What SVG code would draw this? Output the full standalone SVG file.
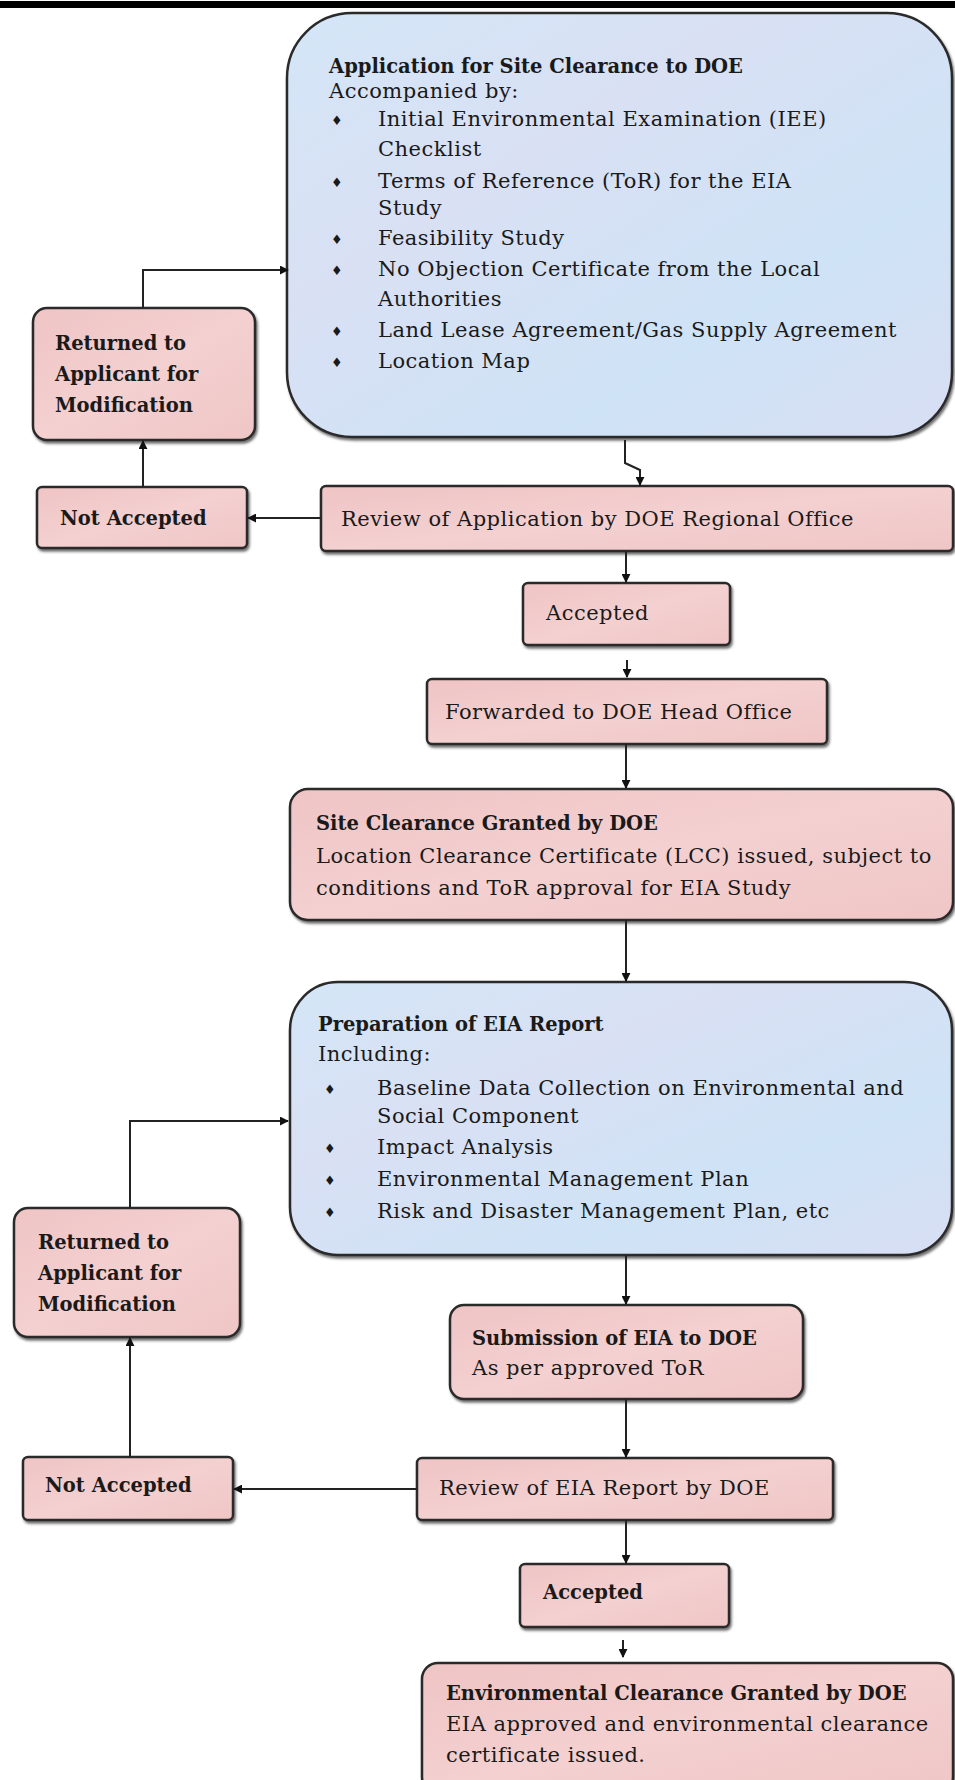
<svg xmlns="http://www.w3.org/2000/svg" width="955" height="1780" viewBox="0 0 955 1780">
<defs>
<linearGradient id="pink" x1="0" y1="0" x2="1" y2="1">
<stop offset="0" stop-color="#efc4c5"/><stop offset="0.5" stop-color="#f4d0d0"/><stop offset="1" stop-color="#efc6c6"/>
</linearGradient>
<linearGradient id="blue" x1="0" y1="0" x2="1" y2="1">
<stop offset="0" stop-color="#d3e6f7"/><stop offset="0.35" stop-color="#d9e0f4"/><stop offset="0.7" stop-color="#cfe3f6"/><stop offset="1" stop-color="#d8def3"/>
</linearGradient>
<filter id="sh" x="-5%" y="-5%" width="110%" height="115%">
<feDropShadow dx="1.5" dy="2.5" stdDeviation="1" flood-color="#333" flood-opacity="0.7"/>
</filter>
<marker id="ah" viewBox="0 0 10 10" refX="9" refY="5" markerWidth="9" markerHeight="9" markerUnits="userSpaceOnUse" orient="auto">
<path d="M0,0 L10,5 L0,10 z" fill="#111"/>
</marker>
</defs>
<style>
.p{fill:url(#pink);stroke:#2a2a2a;stroke-width:2.5;filter:url(#sh)}
.b{fill:url(#blue);stroke:#2a2a2a;stroke-width:2.5;filter:url(#sh)}
.t{font-family:"DejaVu Serif","Liberation Serif",serif;font-size:21px;letter-spacing:0.5px;fill:#1a1a1a}
.tb{font-family:"DejaVu Serif","Liberation Serif",serif;font-size:19.5px;font-weight:bold;fill:#1a1a1a}
.bu{font-family:"DejaVu Sans",sans-serif;font-size:13px;fill:#1a1a1a}
.c{fill:none;stroke:#222;stroke-width:2;marker-end:url(#ah)}
</style>
<rect x="0" y="1" width="955" height="7" fill="#000"/>

<g id="app">
<rect class="b" x="287" y="13" width="665" height="424" rx="65" ry="65"/>
<text class="tb" x="329" y="73">Application for Site Clearance to DOE</text>
<text class="t" x="329" y="98">Accompanied by:</text>
<text class="bu" x="331" y="125">♦</text><text class="t" x="378" y="126">Initial Environmental Examination (IEE)</text>
<text class="t" x="378" y="156">Checklist</text>
<text class="bu" x="331" y="187">♦</text><text class="t" x="378" y="188">Terms of Reference (ToR) for the EIA</text>
<text class="t" x="378" y="215">Study</text>
<text class="bu" x="331" y="244">♦</text><text class="t" x="378" y="245">Feasibility Study</text>
<text class="bu" x="331" y="275">♦</text><text class="t" x="378" y="276">No Objection Certificate from the Local</text>
<text class="t" x="378" y="306">Authorities</text>
<text class="bu" x="331" y="336">♦</text><text class="t" x="378" y="337">Land Lease Agreement/Gas Supply Agreement</text>
<text class="bu" x="331" y="367">♦</text><text class="t" x="378" y="368">Location Map</text>
</g>

<g id="ret1">
<rect class="p" x="33" y="308" width="222" height="132" rx="14"/>
<text class="tb" x="55" y="350">Returned to</text>
<text class="tb" x="55" y="381">Applicant for</text>
<text class="tb" x="55" y="412">Modification</text>
</g>

<g id="na1">
<rect class="p" x="37" y="487" width="210" height="61" rx="5"/>
<text class="tb" x="60" y="525">Not Accepted</text>
</g>

<g id="rev1">
<rect class="p" x="321" y="486" width="632" height="65" rx="5"/>
<text class="t" x="341" y="526">Review of Application by DOE Regional Office</text>
</g>

<g id="acc1">
<rect class="p" x="523" y="583" width="207" height="62" rx="5"/>
<text class="t" x="546" y="620">Accepted</text>
</g>

<g id="fwd">
<rect class="p" x="427" y="679" width="400" height="65" rx="5"/>
<text class="t" x="445" y="719">Forwarded to DOE Head Office</text>
</g>

<g id="site">
<rect class="p" x="290" y="789" width="663" height="131" rx="18"/>
<text class="tb" x="316" y="830">Site Clearance Granted by DOE</text>
<text class="t" x="316" y="863">Location Clearance Certificate (LCC) issued, subject to</text>
<text class="t" x="316" y="895">conditions and ToR approval for EIA Study</text>
</g>

<g id="eia">
<rect class="b" x="290" y="982" width="662" height="273" rx="48" ry="48"/>
<text class="tb" x="318" y="1031">Preparation of EIA Report</text>
<text class="t" x="318" y="1061">Including:</text>
<text class="bu" x="324" y="1094">♦</text><text class="t" x="377" y="1095">Baseline Data Collection on Environmental and</text>
<text class="t" x="377" y="1123">Social Component</text>
<text class="bu" x="324" y="1153">♦</text><text class="t" x="377" y="1154">Impact Analysis</text>
<text class="bu" x="324" y="1185">♦</text><text class="t" x="377" y="1186">Environmental Management Plan</text>
<text class="bu" x="324" y="1217">♦</text><text class="t" x="377" y="1218">Risk and Disaster Management Plan, etc</text>
</g>

<g id="ret2">
<rect class="p" x="14" y="1208" width="226" height="129" rx="14"/>
<text class="tb" x="38" y="1249">Returned to</text>
<text class="tb" x="38" y="1280">Applicant for</text>
<text class="tb" x="38" y="1311">Modification</text>
</g>

<g id="na2">
<rect class="p" x="23" y="1457" width="210" height="63" rx="5"/>
<text class="tb" x="45" y="1492">Not Accepted</text>
</g>

<g id="sub">
<rect class="p" x="450" y="1305" width="353" height="94" rx="14"/>
<text class="tb" x="472" y="1345">Submission of EIA to DOE</text>
<text class="t" x="472" y="1375">As per approved ToR</text>
</g>

<g id="rev2">
<rect class="p" x="417" y="1458" width="416" height="62" rx="5"/>
<text class="t" x="439" y="1495">Review of EIA Report by DOE</text>
</g>

<g id="acc2">
<rect class="p" x="520" y="1564" width="209" height="63" rx="5"/>
<text class="tb" x="543" y="1599">Accepted</text>
</g>

<g id="ec">
<rect class="p" x="422" y="1663" width="531" height="130" rx="16"/>
<text class="tb" x="446" y="1700">Environmental Clearance Granted by DOE</text>
<text class="t" x="446" y="1731">EIA approved and environmental clearance</text>
<text class="t" x="446" y="1762">certificate issued.</text>
</g>

<g id="connectors">
<path class="c" d="M143,308 V270 H288"/>
<path class="c" d="M143,487 V441"/>
<path class="c" d="M625,440 V463 L640,470 V485"/>
<path class="c" d="M321,518 H248"/>
<path class="c" d="M626,551 V582"/>
<path class="c" d="M627,660 V677"/>
<path class="c" d="M626,744 V788"/>
<path class="c" d="M626,920 V981"/>
<path class="c" d="M130,1208 V1121 H288"/>
<path class="c" d="M130,1457 V1338"/>
<path class="c" d="M626,1255 V1304"/>
<path class="c" d="M626,1399 V1457"/>
<path class="c" d="M417,1489 H234"/>
<path class="c" d="M626,1520 V1563"/>
<path class="c" d="M623,1640 V1657"/>
</g>
</svg>
